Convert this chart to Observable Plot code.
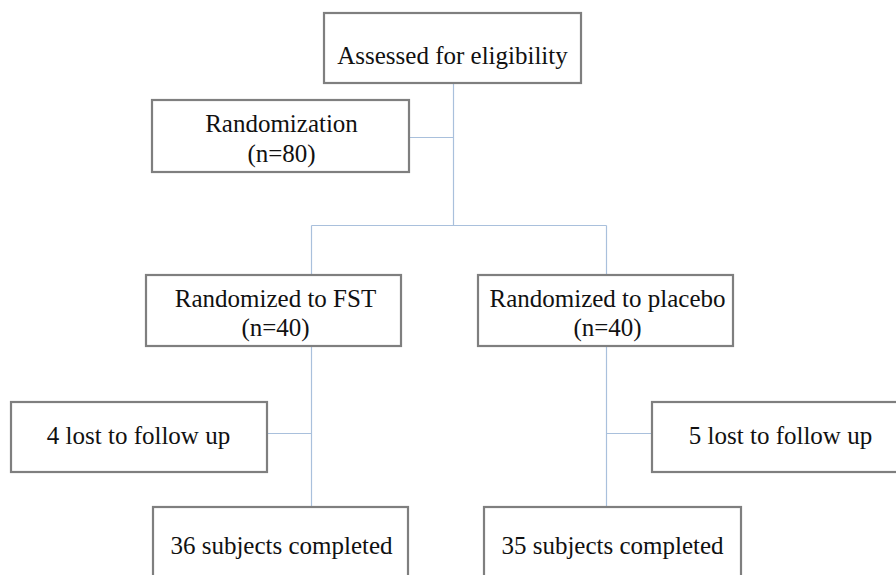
<!DOCTYPE html>
<html>
<head>
<meta charset="utf-8">
<script src="https://cdn.jsdelivr.net/npm/d3@7"></script>
<script src="https://cdn.jsdelivr.net/npm/@observablehq/plot@0.6"></script>
<style>
  html, body { margin: 0; padding: 0; background: #fff; overflow: hidden; }
  svg text { font-family: "Liberation Serif", "DejaVu Serif", serif !important; }
</style>
</head>
<body>
<div id="chart"></div>
<script>
// Flowchart nodes (layout in diagram units = pixels of the reference)
const nodeIds   = ["assessed", "random", "fst", "placebo", "lostFst", "lostPlacebo", "doneFst", "donePlacebo"];
const nodeX1    = [324, 152, 146, 478,  11, 652, 153, 484];
const nodeX2    = [581, 409, 401, 733, 267, 908, 408, 741];
const nodeY1    = [ 13, 100, 275, 275, 402, 402, 507, 507];
const nodeY2    = [ 83, 172, 346, 346, 472, 472, 590, 590];

// Text lines (one record per line; y = text middle)
const lineText  = ["Assessed for eligibility", "Randomization", "(n=80)", "Randomized to FST", "(n=40)",
                   "Randomized to placebo", "(n=40)", "4 lost to follow up", "5 lost to follow up",
                   "36 subjects completed", "35 subjects completed"];
const lineX     = [452, 281, 281, 275, 275, 607, 607, 138, 780, 281, 612];
const lineY     = [ 55, 123, 153, 298, 327, 298, 327, 435, 435, 545, 545];

// Connectors
const edgeX1 = [453, 409, 311, 311, 606, 311, 606, 267, 606];
const edgeY1 = [ 83, 137, 225, 225, 225, 346, 346, 433, 433];
const edgeX2 = [453, 453, 606, 311, 606, 311, 606, 311, 652];
const edgeY2 = [225, 137, 225, 275, 275, 507, 507, 433, 433];

const nodes = nodeIds.map((id, i) => ({id, x1: nodeX1[i], x2: nodeX2[i], y1: nodeY1[i], y2: nodeY2[i]}));
const lines = lineText.map((t, i) => ({t, x: lineX[i], y: lineY[i]}));
const edges = edgeX1.map((_, i) => ({x1: edgeX1[i], y1: edgeY1[i], x2: edgeX2[i], y2: edgeY2[i]}));

const chart = Plot.plot({
  width: 896,
  height: 575,
  margin: 0,
  x: {domain: [0, 896], axis: null},
  y: {domain: [0, 575], reverse: true, axis: null},
  style: {background: "#fff", fontFamily: "'Liberation Serif', serif"},
  marks: [
    Plot.link(edges, {x1: "x1", y1: "y1", x2: "x2", y2: "y2", stroke: "#a9c0dc", strokeWidth: 1.2}),
    Plot.rect(nodes, {x1: "x1", x2: "x2", y1: "y1", y2: "y2", fill: "#fff", stroke: "#7f7f7f", strokeWidth: 2.2}),
    Plot.text(lines, {x: "x", y: "y", text: "t", fill: "#111", fontSize: 25,
                      fontFamily: "'Liberation Serif', serif", lineAnchor: "middle"})
  ]
});
document.getElementById("chart").appendChild(chart);
</script>
</body>
</html>
